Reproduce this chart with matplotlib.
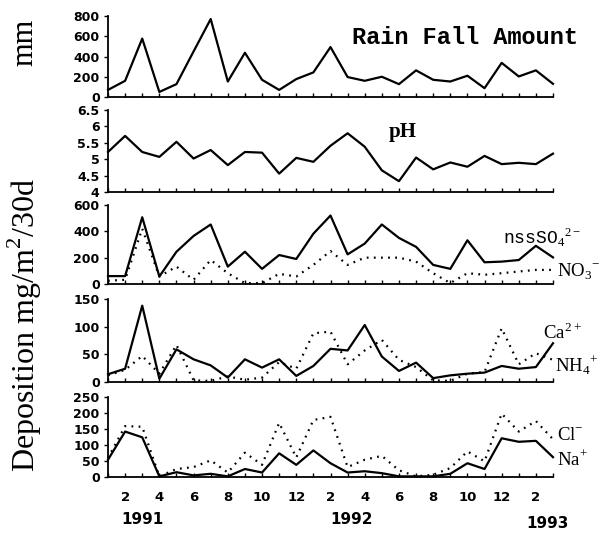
import matplotlib
matplotlib.use("Agg")
import matplotlib.pyplot as plt
import numpy as np

# month index 0 = Jan 1991 ... 26 = Mar 1993
months = list(range(27))

rain = [70, 160, 577, 50, 127, 450, 770, 153, 437, 170, 70, 177, 243, 493,
        197, 160, 200, 127, 263, 170, 153, 210, 87, 337, 203, 263, 130]
ph = [5.22, 5.71, 5.22, 5.07, 5.53, 5.02, 5.28, 4.82, 5.22, 5.20, 4.56, 5.04,
      4.92, 5.41, 5.79, 5.38, 4.66, 4.33, 5.05, 4.69, 4.90, 4.77, 5.10, 4.85,
      4.89, 4.85, 5.17]
nss_so4 = [60, 60, 507, 57, 245, 365, 452, 132, 245, 115, 220, 190, 382, 520,
           225, 307, 452, 350, 282, 145, 115, 332, 165, 170, 182, 290, 202]
no3 = [25, 32, 420, 57, 132, 32, 182, 82, 7, 7, 77, 57, 145, 250, 145, 200,
       200, 200, 170, 82, 7, 82, 70, 82, 95, 107, 107]
ca = [14, 24, 138, 6, 59, 41, 30, 8, 41, 26, 41, 11, 29, 60, 57, 103, 46, 20,
      35, 7, 12, 15, 17, 29, 24, 27, 70]
nh4 = [12, 22, 47, 15, 67, 3, 2, 10, 4, 8, 36, 24, 88, 91, 32, 57, 76, 40, 27,
       3, 2, 15, 18, 97, 32, 52, 40]
na = [54, 142, 124, 2, 15, 5, 10, 2, 25, 14, 74, 38, 83, 43, 14, 18, 12, 2, 2,
      2, 10, 43, 25, 121, 110, 113, 62]
cl = [59, 159, 157, 2, 25, 31, 52, 14, 76, 38, 169, 61, 178, 188, 31, 54, 66,
      21, 2, 7, 28, 80, 49, 198, 142, 175, 118]

month_labels = ["", "2", "", "4", "", "6", "", "8", "", "10", "", "12", "",
                "2", "", "4", "", "6", "", "8", "", "10", "", "12", "", "2", ""]
years = ["1991", "1992", "1993"]

plt.rcParams["mathtext.fontset"] = "custom"
plt.rcParams["mathtext.rm"] = "Liberation Serif"

W, H = 614, 533
fig = plt.figure(figsize=(W / 100, H / 100), dpi=100)


def fx(x):
    return x / W


def fy(y):
    return 1 - y / H


left, right = 108, 553
panels = [(16, 97), (110, 192), (205, 284), (299, 382), (397, 477)]
ylims = [(0, 800), (4, 6.5), (0, 600), (0, 150), (0, 250)]
yticks = [[0, 200, 400, 600, 800], [4, 4.5, 5, 5.5, 6, 6.5],
          [0, 200, 400, 600], [0, 50, 100, 150], [0, 50, 100, 150, 200, 250]]
ytl = [["0", "200", "400", "600", "800"], ["4", "4.5", "5", "5.5", "6", "6.5"],
       ["0", "200", "400", "600"], ["0", "50", "100", "150"],
       ["0", "50", "100", "150", "200", "250"]]

axes = []
for i, (top, bot) in enumerate(panels):
    ax = fig.add_axes([fx(left), fy(bot), fx(right) - fx(left), (bot - top) / H])
    ax.set_xlim(0, 26)
    ax.set_ylim(*ylims[i])
    ax.set_yticks(yticks[i])
    ax.set_yticklabels(ytl[i], fontsize=9, fontweight="bold", family="DejaVu Sans")
    ax.set_xticks(months)
    if i == 4:
        ax.set_xticklabels(month_labels, fontsize=9.5, fontweight="bold",
                           family="DejaVu Sans")
    else:
        ax.set_xticklabels([])
    ax.tick_params(axis="x", direction="in", length=3, width=1, pad=10)
    ax.tick_params(axis="y", direction="out", length=3, width=1, pad=3)
    for s in ["top", "right"]:
        ax.spines[s].set_visible(False)
    for s in ["left", "bottom"]:
        ax.spines[s].set_linewidth(1.3)
    ax.patch.set_alpha(0)
    axes.append(ax)

solid = dict(color="black", lw=1.6)
dot = dict(color="black", lw=1.6, linestyle=(0, (0.8, 2.4)))

axes[0].plot(months, rain, **solid)
axes[1].plot(months, ph, **solid)
axes[2].plot(months, nss_so4, **solid)
axes[2].plot(months, no3, **dot)
axes[3].plot(months, ca, **solid)
axes[3].plot(months, nh4, **dot)
axes[4].plot(months, na, **solid)
axes[4].plot(months, cl, **dot)

for a in axes:
    for ln in a.lines:
        ln.set_clip_on(False)

# annotations
fig.text(fx(352), fy(37), "Rain Fall Amount", family="Liberation Mono",
         fontweight="bold", fontsize=17, ha="left", va="center")
fig.text(fx(389), fy(132), "pH", family="Liberation Serif", fontweight="bold",
         fontsize=15, ha="left", va="center")
fig.text(fx(503), fy(237), r"nssSO$_4$$^{2-}$", family="Liberation Mono",
         fontsize=13, ha="left", va="center")
fig.text(fx(557), fy(272), r"NO$_3$$^{-}$", family="Liberation Serif",
         fontsize=13.5, ha="left", va="center")
fig.text(fx(543), fy(333), r"Ca$^{2+}$", family="Liberation Serif",
         fontsize=13.5, ha="left", va="center")
fig.text(fx(555), fy(365), r"NH$_4$$^{+}$", family="Liberation Serif",
         fontsize=13.5, ha="left", va="center")
fig.text(fx(557), fy(436), r"Cl$^{-}$", family="Liberation Serif",
         fontsize=13.5, ha="left", va="center")
fig.text(fx(557), fy(460), r"Na$^{+}$", family="Liberation Serif",
         fontsize=13.5, ha="left", va="center")

# years
fig.text(fx(142), fy(519), years[0], fontsize=11, fontweight="bold",
         ha="center", va="center")
fig.text(fx(352), fy(519), years[1], fontsize=11, fontweight="bold",
         ha="center", va="center")
fig.text(fx(547), fy(524), years[2], fontsize=11, fontweight="bold",
         ha="center", va="center")

# y label
fig.text(fx(25), fy(325), r"Deposition mg/m$^2$/30d", family="Liberation Serif",
         fontsize=23, rotation=90, ha="center", va="center")
fig.text(fx(25), fy(42), "mm", family="Liberation Serif",
         fontsize=22, rotation=90, ha="center", va="center")

fig.savefig("out.png", dpi=100)
